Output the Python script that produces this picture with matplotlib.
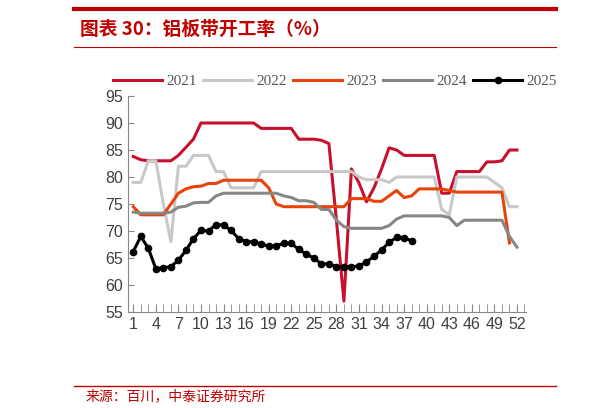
import numpy as np
import matplotlib
matplotlib.use("Agg")
import matplotlib.pyplot as plt
from matplotlib.lines import Line2D

weeks = list(range(1, 53))
y2021 = [83.8,83.2,83,83,83,83,84,85.5,87,90,90,90,90,90,90,90,90,89,89,89,89,89,87,87,87,86.8,86.2,72,57,81.5,78.9,75.4,78,81.5,85.4,85,84,84,84,84,84,77,77,81,81,81,81,82.8,82.8,83,85,85]
y2022 = [79,79,83,83,75,68,82,82,84,84,84,81,81,78,78,78,78,81,81,81,81,81,81,81,81,81,81,81,81,81,80,79.5,79.5,79.5,79,80,80,80,80,80,80,74,73,80,80,80,80,80,79,78,74.5,74.5]
y2023 = [74.5,73,73,73,73,75,77,77.8,78.2,78.3,78.8,78.8,79.4,79.4,79.4,79.4,79.4,79.4,78,75,74.5,74.5,74.5,74.5,74.5,74.5,74.5,74.5,74.5,76,76,76,75.5,75.5,76.5,77.5,76.2,76.5,77.8,77.8,77.8,77.8,77.5,77.2,77.2,77.2,77.2,77.2,77.2,77.2,67.8]
y2024 = [73.5,73.3,73.3,73.3,73.3,73.5,74.4,74.6,75.2,75.3,75.3,76.5,77,77,77,77,77,77,77,77,76.5,76.2,75.6,75.6,75.3,74,74,72,70.8,70.5,70.5,70.5,70.5,70.5,71,72.2,72.8,72.8,72.8,72.8,72.8,72.8,72.5,71,72,72,72,72,72,72,69,67]
y2025 = [66.2,69,66.8,63,63.2,63.4,64.6,66.4,68.6,70.1,70,71.2,71.1,70.1,68.6,68,68,67.6,67.2,67.3,67.7,67.7,66.6,65.7,65,63.9,63.9,63.4,63.4,63.4,63.5,64.3,65.3,66.5,67.9,68.8,68.7,68.2]

series = [("2021", y2021, "#C8102E"), ("2022", y2022, "#C8C8C8"),
          ("2023", y2023, "#E8440A"), ("2024", y2024, "#878787"),
          ("2025", y2025, "#000000")]

plt.rcParams["font.family"] = ["Liberation Sans", "Noto Sans CJK SC"]
fig = plt.figure(figsize=(6.02, 4.08), dpi=100)
W, H = 602, 408
ax = fig.add_axes([128/W, 1-312/H, (526-128)/W, (312-96)/H])
for name, ys, c in series:
    x = weeks[:len(ys)]
    if name == "2025":
        ax.plot(x, ys, color=c, lw=2.2, marker="o", ms=4.5, label=name)
    else:
        ax.plot(x, ys, color=c, lw=2.2, label=name)

ax.set_ylim(55, 95)
ax.set_yticks(range(55, 96, 5))
ax.set_xlim(0.3, 53.2)
ax.set_xticks(range(1, 53, 3))
ax.set_xticks(range(1, 54), minor=True)
for s in ["top", "right"]:
    ax.spines[s].set_visible(False)
for s in ["left", "bottom"]:
    ax.spines[s].set_color("#888888")
ax.tick_params(axis="both", labelsize=11.5, colors="#404040", length=5, direction="in")
ax.tick_params(axis="x", which="both", direction="in", length=6, color="#888888")
ax.tick_params(axis="y", direction="in", length=4, color="#888888")

leg = ax.legend(loc="center", bbox_to_anchor=(0.52, (312-81)/216), ncol=5, frameon=False,
                prop={"family": "Liberation Serif", "size": 11}, handlelength=3.2,
                columnspacing=0.4, handletextpad=0.3)
for t in leg.get_texts():
    t.set_color("#555555")

red = "#C00000"
fig.add_artist(Line2D([74/W, 556/W], [1-9/H, 1-9/H], color=red, lw=3))
fig.add_artist(Line2D([74/W, 556/W], [1-47/H, 1-47/H], color=red, lw=0.8))
fig.add_artist(Line2D([74/W, 556/W], [1-386/H, 1-386/H], color=red, lw=1))
fig.text(80/W, 1-29/H, "图表 30：铝板带开工率（%）", color=red, fontsize=13.5,
         fontweight="bold", style="italic", va="center", family="Noto Sans CJK SC")
fig.text(86/W, 1-396/H, "来源：百川，中泰证券研究所", color=red, fontsize=10,
         va="center", family="Noto Sans CJK SC")

fig.savefig("out.png", dpi=100)
